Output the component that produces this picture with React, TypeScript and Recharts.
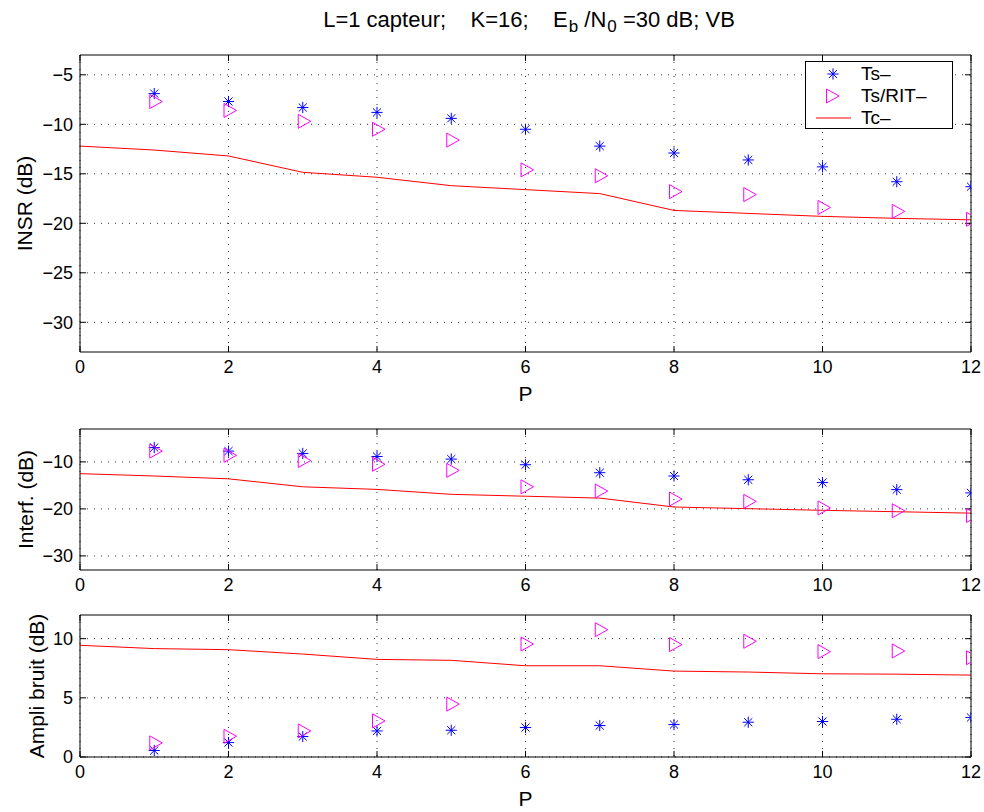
import React from "react";
import {
  ComposedChart,
  Line,
  Scatter,
  XAxis,
  YAxis,
  CartesianGrid,
  Legend,
  Label,
} from "recharts";

// P values
const pLine = [0, 1, 2, 3, 4, 5, 6, 7, 8, 9, 10, 11, 12];
const pMarkers = [1, 2, 3, 4, 5, 6, 7, 8, 9, 10, 11, 12];
const xTicks = [0, 2, 4, 6, 8, 10, 12];

// INSR (dB)
const insrTs = [-6.9, -7.7, -8.3, -8.8, -9.4, -10.5, -12.2, -12.9, -13.6, -14.3, -15.8, -16.3];
const insrRit = [-7.7, -8.6, -9.7, -10.5, -11.6, -14.6, -15.2, -16.8, -17.1, -18.4, -18.8, -19.6];
const insrTc = [-12.2, -12.6, -13.2, -14.85, -15.35, -16.2, -16.6, -17.0, -18.7, -19.0, -19.3, -19.5, -19.65];
const insrTicks = [-30, -25, -20, -15, -10, -5];

// Interf. (dB)
const interfTs = [-6.95, -7.7, -8.2, -8.85, -9.4, -10.6, -12.3, -13.0, -13.8, -14.4, -15.9, -16.6];
const interfRit = [-7.7, -8.6, -9.7, -10.5, -11.8, -15.3, -16.2, -17.9, -18.4, -19.8, -20.4, -21.4];
const interfTc = [-12.5, -13.0, -13.6, -15.3, -15.85, -16.9, -17.3, -17.7, -19.6, -19.95, -20.3, -20.6, -20.9];
const interfTicks = [-30, -20, -10];

// Ampli bruit (dB)
const ampliTs = [0.55, 1.22, 1.73, 2.2, 2.26, 2.49, 2.66, 2.74, 2.94, 3.0, 3.19, 3.34];
const ampliRit = [1.19, 1.75, 2.2, 3.05, 4.47, 9.55, 10.76, 9.5, 9.78, 8.9, 8.96, 8.39];
const ampliTc = [9.44, 9.16, 9.07, 8.7, 8.25, 8.17, 7.71, 7.71, 7.26, 7.18, 7.03, 7.0, 6.92];
const ampliTicks = [0, 5, 10];

const FONT = "'Liberation Sans', Arial, Helvetica, sans-serif";
const BLUE = "#0000ff";
const MAGENTA = "#ff00ff";
const RED = "#ff0000";

const toRows = (xs: number[], ys: number[]) => xs.map((P, i) => ({ P, v: ys[i] }));
const fmt = (v: number) => String(v).replace("-", "\u2212");

const Star = (props: any) => {
  const { cx, cy } = props;
  if (cx == null || cy == null) return <g />;
  const r = 5.6;
  const d = r * 0.72;
  return (
    <g stroke={BLUE} strokeWidth={1}>
      <line x1={cx - r} y1={cy} x2={cx + r} y2={cy} />
      <line x1={cx} y1={cy - r} x2={cx} y2={cy + r} />
      <line x1={cx - d} y1={cy - d} x2={cx + d} y2={cy + d} />
      <line x1={cx - d} y1={cy + d} x2={cx + d} y2={cy - d} />
    </g>
  );
};

const Tri = (props: any) => {
  const { cx, cy } = props;
  if (cx == null || cy == null) return <g />;
  return (
    <polygon
      points={`${cx - 4.5},${cy - 7} ${cx + 8},${cy} ${cx - 4.5},${cy + 7}`}
      fill="none"
      stroke={MAGENTA}
      strokeWidth={1}
    />
  );
};

const yLabel = (text: string, x: number) => (props: any) => {
  const vb = props.viewBox;
  const cy = vb.y + vb.height / 2;
  return (
    <text
      x={x}
      y={cy}
      transform={`rotate(-90, ${x}, ${cy})`}
      textAnchor="middle"
      dominantBaseline="central"
      fontSize={21}
      fontFamily={FONT}
      fill="#000"
    >
      {text}
    </text>
  );
};

const xLabel = (props: any) => {
  const vb = props.viewBox;
  return (
    <text
      x={vb.x + vb.width / 2}
      y={vb.y + 41}
      textAnchor="middle"
      dominantBaseline="central"
      fontSize={21}
      fontFamily={FONT}
      fill="#000"
    >
      P
    </text>
  );
};

const legendItems = [
  { name: "Ts\u2013", kind: "star" },
  { name: "Ts/RIT\u2013", kind: "tri" },
  { name: "Tc\u2013", kind: "line" },
];

const renderLegend = () => (
  <div
    style={{
      border: "1.5px solid #000",
      background: "#fff",
      width: 148,
      height: 68,
      boxSizing: "border-box",
      fontFamily: FONT,
      fontSize: 19,
      lineHeight: "22px",
      paddingTop: 1,
    }}
  >
    {legendItems.map((it) => (
      <div key={it.name} style={{ display: "flex", alignItems: "center", height: 22 }}>
        <svg width={55} height={22}>
          {it.kind === "star" && <Star cx={27} cy={11} />}
          {it.kind === "tri" && <Tri cx={25} cy={11} />}
          {it.kind === "line" && <line x1={10} y1={11} x2={45} y2={11} stroke={RED} />}
        </svg>
        <span>{it.name}</span>
      </div>
    ))}
  </div>
);

type PanelProps = {
  top: number;
  height: number;
  marginTop: number;
  marginBottom: number;
  xAxisHeight: number;
  domain: [number, number];
  yTicks: number[];
  ts: number[];
  rit: number[];
  tc: number[];
  label: string;
  labelX: number;
  showP: boolean;
  legend?: boolean;
};

const Panel = (p: PanelProps) => {
  const tsData = toRows(pMarkers, p.ts);
  const ritData = toRows(pMarkers, p.rit);
  const tcData = toRows(pLine, p.tc);
  return (
    <div style={{ position: "absolute", left: 0, top: p.top }}>
      <ComposedChart
        width={984}
        height={p.height}
        margin={{ top: p.marginTop - 1, right: 12, bottom: p.marginBottom, left: 0 }}
      >
        <CartesianGrid
          stroke="#333"
          strokeDasharray="1 6"
          horizontalValues={p.yTicks}
          verticalValues={xTicks}
        />
        <XAxis
          dataKey="P"
          type="number"
          domain={[0, 12]}
          ticks={xTicks}
          allowDataOverflow
          height={p.xAxisHeight}
          stroke="#000"
          tickSize={-6}
          tickMargin={14}
          tick={{ fill: "#000", fontSize: 18, fontFamily: FONT }}
        >
          {p.showP && <Label content={xLabel} />}
        </XAxis>
        <XAxis
          xAxisId="top"
          dataKey="P"
          orientation="top"
          type="number"
          domain={[0, 12]}
          ticks={xTicks}
          allowDataOverflow
          height={1}
          stroke="#000"
          tickSize={-6}
          tick={() => <g />}
        />
        <YAxis
          type="number"
          domain={p.domain}
          ticks={p.yTicks}
          allowDataOverflow
          width={80}
          stroke="#000"
          tickSize={-6}
          tickMargin={13}
          tickFormatter={fmt}
          tick={{ fill: "#000", fontSize: 18, fontFamily: FONT }}
        >
          <Label content={yLabel(p.label, p.labelX)} />
        </YAxis>
        <YAxis
          yAxisId="right"
          orientation="right"
          type="number"
          domain={p.domain}
          ticks={p.yTicks}
          allowDataOverflow
          width={1}
          stroke="#000"
          tickSize={-6}
          tick={() => <g />}
        />
        <Line
          data={tcData}
          dataKey="v"
          xAxisId="top"
          yAxisId="right"
          name="Tc\u2013"
          stroke={RED}
          strokeWidth={1}
          dot={false}
          isAnimationActive={false}
        />
        <Scatter data={tsData} dataKey="v" name="Ts\u2013" shape={Star} isAnimationActive={false} />
        <Scatter data={ritData} dataKey="v" name="Ts/RIT\u2013" shape={Tri} isAnimationActive={false} />
        {p.legend && (
          <Legend
            layout="horizontal"
            verticalAlign="middle"
            align="center"
            content={renderLegend}
            wrapperStyle={{ position: "absolute", left: 805, top: 61, width: 150, height: 70 }}
          />
        )}
      </ComposedChart>
    </div>
  );
};

export default function App() {
  return (
    <div
      style={{
        position: "absolute",
        left: 0,
        top: 0,
        width: 984,
        height: 812,
        background: "#fff",
        fontFamily: FONT,
      }}
    >
      <div
        style={{
          position: "absolute",
          left: 0,
          width: 1058,
          top: 7,
          textAlign: "center",
          fontSize: 22,
          whiteSpace: "pre",
          lineHeight: "26px",
        }}
      >
        {"L=1 capteur;    K=16;    E"}
        <sub style={{ fontSize: 17, marginLeft: 1 }}>b</sub>
        {" /N"}
        <sub style={{ fontSize: 17, marginLeft: 1 }}>0</sub>
        {" =30 dB; VB"}
      </div>
      <Panel
        top={0}
        height={412}
        marginTop={55}
        marginBottom={12}
        xAxisHeight={48}
        domain={[-33, -3]}
        yTicks={insrTicks}
        ts={insrTs}
        rit={insrRit}
        tc={insrTc}
        label="INSR (dB)"
        labelX={24}
        showP
        legend
      />
      <Panel
        top={400}
        height={200}
        marginTop={29}
        marginBottom={0}
        xAxisHeight={30}
        domain={[-33, -3]}
        yTicks={interfTicks}
        ts={interfTs}
        rit={interfRit}
        tc={interfTc}
        label="Interf. (dB)"
        labelX={25}
        showP={false}
      />
      <Panel
        top={600}
        height={212}
        marginTop={15}
        marginBottom={0}
        xAxisHeight={55}
        domain={[0, 12]}
        yTicks={ampliTicks}
        ts={ampliTs}
        rit={ampliRit}
        tc={ampliTc}
        label="Ampli bruit (dB)"
        labelX={36}
        showP
      />
    </div>
  );
}
